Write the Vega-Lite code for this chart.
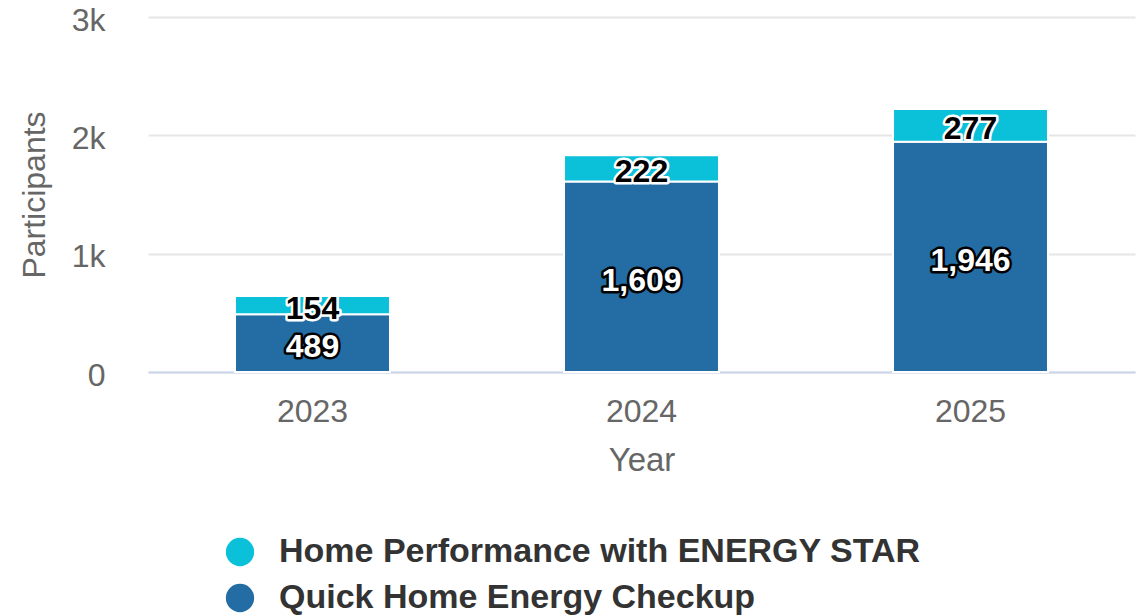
{
  "$schema": "https://vega.github.io/schema/vega-lite/v6.json",
  "autosize": {"type": "none"},
  "width": 987,
  "height": 355,
  "padding": {"left": 148, "top": 17, "right": 6, "bottom": 244},
  "background": "white",
  "config": {"font": "Liberation Sans", "view": {"stroke": null}},
  "data": {
    "values": [
      {"Year": "2023", "Program": "Quick Home Energy Checkup", "Participants": 489, "ord": 0},
      {"Year": "2023", "Program": "Home Performance with ENERGY STAR", "Participants": 154, "ord": 1},
      {"Year": "2024", "Program": "Quick Home Energy Checkup", "Participants": 1609, "ord": 0},
      {"Year": "2024", "Program": "Home Performance with ENERGY STAR", "Participants": 222, "ord": 1},
      {"Year": "2025", "Program": "Quick Home Energy Checkup", "Participants": 1946, "ord": 0},
      {"Year": "2025", "Program": "Home Performance with ENERGY STAR", "Participants": 277, "ord": 1}
    ]
  },
  "transform": [
    {"stack": "Participants", "groupby": ["Year"], "sort": [{"field": "ord"}], "as": ["y0", "y1"]},
    {"calculate": "(datum.y0 + datum.y1) / 2", "as": "ymid"}
  ],
  "encoding": {
    "x": {
      "field": "Year", "type": "nominal",
      "scale": {"paddingInner": 0.529, "paddingOuter": 0.2645},
      "axis": {
        "labelAngle": 0, "labelFontSize": 32, "labelColor": "#666666", "labelPadding": 24,
        "ticks": false, "domainColor": "#ccd6eb", "domainWidth": 2,
        "titleFontSize": 33, "titleColor": "#666666", "titleFontWeight": "normal", "titlePadding": 17
      }
    }
  },
  "layer": [
    {
      "mark": {"type": "bar", "stroke": "white", "strokeWidth": 2},
      "encoding": {
        "y": {
          "field": "y0", "type": "quantitative", "title": "Participants",
          "scale": {"domain": [0, 3000], "nice": false},
          "axis": {
            "values": [0, 1000, 2000, 3000],
            "labelExpr": "datum.value == 0 ? '0' : (datum.value / 1000) + 'k'",
            "labelFontSize": 32, "labelColor": "#666666", "labelPadding": 43, "labelOffset": 3,
            "ticks": false, "domain": false, "gridColor": "#e6e6e6", "gridWidth": 2,
            "titleFontSize": 32, "titleColor": "#666666", "titleFontWeight": "normal", "titlePadding": 20
          }
        },
        "y2": {"field": "y1"},
        "color": {
          "field": "Program", "type": "nominal",
          "scale": {
            "domain": ["Home Performance with ENERGY STAR", "Quick Home Energy Checkup"],
            "range": ["#0bc1d9", "#236ca4"]
          },
          "legend": {
            "title": null, "orient": "none", "legendX": 75, "legendY": 518,
            "symbolType": "circle", "symbolSize": 800, "symbolStrokeWidth": 0, "symbolOpacity": 1,
            "labelFontSize": 34, "labelFontWeight": "bold", "labelColor": "#333333",
            "rowPadding": 12, "labelOffset": 22, "labelLimit": 900
          }
        }
      }
    },
    {
      "mark": {"type": "text", "fontSize": 32, "fontWeight": "bold", "baseline": "middle", "dy": 4, "strokeWidth": 5, "strokeJoin": "round"},
      "encoding": {
        "y": {"field": "ymid", "type": "quantitative"},
        "text": {"field": "Participants", "type": "quantitative", "format": ","},
        "stroke": {
          "condition": {"test": "datum.ord == 1", "value": "white"},
          "value": "black"
        },
        "fill": {
          "condition": {"test": "datum.ord == 1", "value": "white"},
          "value": "black"
        }
      }
    },
    {
      "mark": {"type": "text", "fontSize": 32, "fontWeight": "bold", "baseline": "middle", "dy": 4},
      "encoding": {
        "y": {"field": "ymid", "type": "quantitative"},
        "text": {"field": "Participants", "type": "quantitative", "format": ","},
        "fill": {
          "condition": {"test": "datum.ord == 1", "value": "black"},
          "value": "white"
        }
      }
    }
  ]
}
